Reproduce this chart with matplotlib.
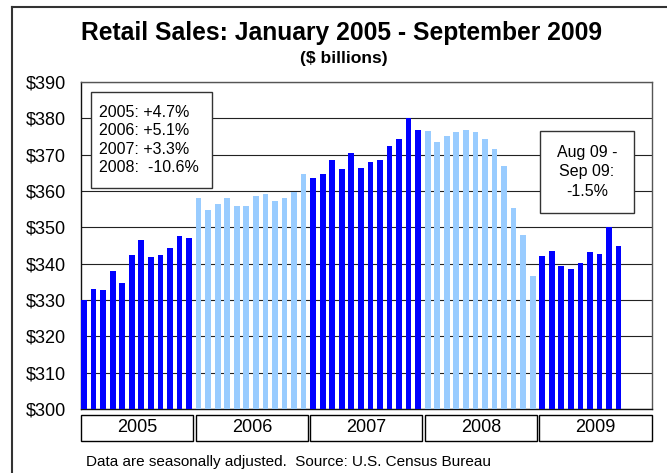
import matplotlib
matplotlib.use('Agg')
import matplotlib.pyplot as plt
import matplotlib.transforms as mtransforms
from matplotlib.patches import Rectangle
from matplotlib.lines import Line2D
import numpy as np

plt.rcParams['font.family'] = ['Liberation Sans', 'DejaVu Sans']

# monthly retail sales, $ billions
years = ['2005', '2006', '2007', '2008', '2009']
sales_2005 = [330.1, 333.1, 332.8, 337.9, 334.7, 342.3, 346.6, 341.9, 342.4, 344.2, 347.5, 347.0]
sales_2006 = [358.1, 354.8, 356.3, 358.1, 356.0, 355.8, 358.6, 359.2, 357.2, 358.2, 359.8, 364.7]
sales_2007 = [363.5, 364.8, 368.5, 366.0, 370.5, 366.4, 368.1, 368.5, 372.3, 374.2, 380.0, 376.7]
sales_2008 = [376.5, 373.5, 375.2, 376.3, 376.9, 376.3, 374.3, 371.5, 366.9, 355.4, 347.9, 336.6]
sales_2009 = [342.2, 343.6, 339.4, 338.5, 340.1, 343.1, 342.7, 350.1, 345.0]
yearly = [sales_2005, sales_2006, sales_2007, sales_2008, sales_2009]

growth_text = "2005: +4.7%\n2006: +5.1%\n2007: +3.3%\n2008:  -10.6%"
recent_text = "Aug 09 -\nSep 09:\n-1.5%"

dark = '#0000FF'
light = '#99CCFF'

fig = plt.figure(figsize=(6.67, 4.73), dpi=100)
ax = fig.add_axes([81/667, 1 - 409/473, 571/667, 327/473])

pos = 0
for i, vals in enumerate(yearly):
    x = np.arange(pos, pos + len(vals))
    ax.bar(x, vals, width=0.6, color=dark if i % 2 == 0 else light, zorder=3)
    pos += len(vals)

ax.set_xlim(-0.32, 59.5)
ax.set_ylim(300, 390)
ax.set_yticks(np.arange(300, 391, 10))
ax.set_yticklabels(['$%d' % v for v in np.arange(300, 391, 10)], fontsize=13)
ax.tick_params(axis='y', length=0, pad=11)
ax.set_xticks([])
ax.grid(axis='y', color='#222222', lw=0.8, zorder=1)
for s in ax.spines.values():
    s.set_color('#555555')
    s.set_linewidth(1.0)
ax.spines['left'].set_color('#111111')
ax.spines['bottom'].set_color('#111111')

# year boxes under the axis
trans = mtransforms.blended_transform_factory(ax.transData, ax.transAxes)
for k, yr in enumerate(years):
    x0 = 12 * k - 0.3
    r = Rectangle((x0, -0.098), 11.75, 0.08, transform=trans, clip_on=False,
                  facecolor='white', edgecolor='black', lw=1.0)
    ax.add_patch(r)
    ax.text(x0 + 11.75 / 2, -0.058, yr, transform=trans, ha='center', va='center',
            fontsize=13)

# annotation boxes
ax.add_patch(Rectangle((0.0175, 0.676), 0.2119, 0.2936, transform=ax.transAxes,
                       facecolor='white', edgecolor='#333333', lw=1.0, zorder=5))
ax.text(0.0315, 0.8226, growth_text, transform=ax.transAxes, ha='left', va='center',
        fontsize=11.5, linespacing=1.3, zorder=6)
ax.add_patch(Rectangle((0.8039, 0.5994), 0.1646, 0.2508, transform=ax.transAxes,
                       facecolor='white', edgecolor='#333333', lw=1.0, zorder=5))
ax.text(0.886, 0.7248, recent_text, transform=ax.transAxes, ha='center', va='center',
        fontsize=11.5, linespacing=1.38, zorder=6)

fig.text(342/667, 1 - 33/473, 'Retail Sales: January 2005 - September 2009',
         ha='center', va='center', fontsize=17.7, fontweight='bold')
fig.text(344/667, 1 - 58/473, '($ billions)', ha='center', va='center',
         fontsize=12.6, fontweight='bold')
fig.text(86/667, 1 - 462/473, 'Data are seasonally adjusted.  Source: U.S. Census Bureau',
         ha='left', va='center', fontsize=11)

# outer frame (left and top edges visible)
fig.add_artist(Line2D([12/667, 12/667], [0, 1 - 7.5/473], transform=fig.transFigure,
                      color='#333333', lw=1.5))
fig.add_artist(Line2D([12/667, 1], [1 - 7.5/473, 1 - 7.5/473], transform=fig.transFigure,
                      color='#333333', lw=1.5))

fig.savefig('out.png', dpi=100)
